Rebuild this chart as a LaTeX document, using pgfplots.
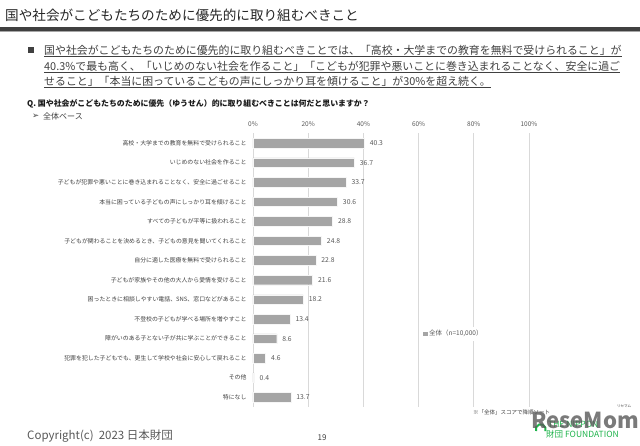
\documentclass[border=0pt]{standalone}
\usepackage{pgfplots}
\pgfplotsset{compat=1.18}
\usepackage{fontspec}
\setmainfont{Noto Sans CJK JP}
\newfontfamily\dejavu{DejaVu Sans}
\definecolor{barcol}{HTML}{A5A5A5}
\definecolor{gridcol}{HTML}{D9D9D9}
\definecolor{txt}{HTML}{404040}
\definecolor{lbl}{HTML}{595959}
\definecolor{nfgreen}{HTML}{1DB34A}
\begin{document}
\begin{tikzpicture}
\useasboundingbox (0pt,0pt) rectangle (640pt,445pt);
\begin{scope}[x=1pt,y=1pt]
\fill[white] (0,0) rectangle (640,445);
% title
\node[anchor=west,inner sep=0,text=black!85,font=\fontsize{13.6}{15}\selectfont] at (5,430) {国や社会がこどもたちのために優先的に取り組むべきこと};
\fill[txt] (0,414) rectangle (640,417.5);
\fill[black!35] (0,412.5) rectangle (640,414);
% bullet
\fill[txt] (27.5,392) rectangle (33.5,398);
\begin{scope}[every node/.style={anchor=west,inner sep=0,text=txt,font=\fontsize{10.9}{12}\selectfont}]
\node (l1) at (44,395) {国や社会がこどもたちのために優先的に取り組むべきことでは、「高校・大学までの教育を無料で受けられること」が};
\node (l2) at (44,379) {40.3\%で最も高く、「いじめのない社会を作ること」「こどもが犯罪や悪いことに巻き込まれることなく、安全に過ご};
\node (l3) at (44,364) {せること」「本当に困っているこどもの声にしっかり耳を傾けること」が30\%を超え続く。};
\end{scope}
\foreach \n in {l1,l2,l3}{\draw[txt,line width=0.7pt] ([yshift=-0.8pt]\n.south west) -- ([yshift=-0.8pt]\n.south east);}
% question
\node[anchor=west,inner sep=0,font=\fontsize{7.9}{9}\selectfont\bfseries,text=black!90] at (27,341) {Q. 国や社会がこどもたちのために優先（ゆうせん）的に取り組むべきことは何だと思いますか？};
\node[anchor=west,inner sep=0,font=\fontsize{8.5}{9}\selectfont\dejavu,text=txt] at (32,329) {➢};
\node[anchor=west,inner sep=0,font=\fontsize{8}{9}\selectfont,text=txt] at (43,329) {全体ベース};
% footnote
\node[anchor=west,inner sep=0,font=\fontsize{5.5}{6}\selectfont,text=txt] at (473,33) {※「全体」スコアで降順ソート};
% footer
\node[anchor=west,inner sep=0,font=\fontsize{11.5}{12}\selectfont,text=lbl] at (27,9) {Copyright(c)\ \ 2023 日本財団};
\node[anchor=center,inner sep=0,font=\fontsize{8}{9}\selectfont,text=txt] at (322,7) {19};
% logo
\draw[nfgreen,line width=2pt] (536,14) arc[start angle=200,end angle=-20,radius=5];
\node[anchor=west,inner sep=0,font=\fontsize{8.5}{9}\selectfont,text=nfgreen] at (548,21) {THE NIPPON};
\node[anchor=west,inner sep=0,font=\fontsize{8.5}{9}\selectfont,text=nfgreen] at (546,11) {財団 FOUNDATION};
\node[anchor=west,inner sep=0,font=\fontsize{22}{22}\selectfont\bfseries,text=black!65,opacity=0.8] at (531,25) {ReseMom};
\node[anchor=west,inner sep=0,font=\fontsize{3.5}{4}\selectfont,text=txt] at (617,39) {リセマム};
\end{scope}
% chart
\begin{axis}[
  at={(253pt,38pt)}, anchor=south west,
  scale only axis, width=276pt, height=273.6pt,
  xbar, bar width=9.5pt,
  xmin=0, xmax=100,
  ymin=-0.5, ymax=13.5, y dir=reverse,
  xtick={0,20,40,60,80,100},
  xticklabel={\pgfmathprintnumber{\tick}\%},
  xticklabel pos=upper,
  xticklabel style={font=\fontsize{6.5}{7}\selectfont, text=lbl, yshift=3pt},
  ytick={0,...,13},
  yticklabels={
    {高校・大学までの教育を無料で受けられること},
    {いじめのない社会を作ること},
    {子どもが犯罪や悪いことに巻き込まれることなく、安全に過ごせること},
    {本当に困っている子どもの声にしっかり耳を傾けること},
    {すべての子どもが平等に扱われること},
    {子どもが関わることを決めるとき、子どもの意見を聞いてくれること},
    {自分に適した医療を無料で受けられること},
    {子どもが家族やその他の大人から愛情を受けること},
    {困ったときに相談しやすい電話、SNS、窓口などがあること},
    {不登校の子どもが学べる場所を増やすこと},
    {障がいのある子とない子が共に学ぶことができること},
    {犯罪を犯した子どもでも、更生して学校や社会に安心して戻れること},
    {その他},
    {特になし}},
  yticklabel style={font=\fontsize{5.9}{6}\selectfont, text=txt, xshift=-3pt},
  major tick length=0pt,
  axis line style={draw=none},
  xmajorgrids, grid style={gridcol, line width=0.8pt},
  /pgf/number format/assume math mode=true,
  nodes near coords={\pgfmathprintnumber[fixed,fixed zerofill,precision=1]{\pgfplotspointmeta}},
  nodes near coords style={font=\fontsize{6.8}{7}\selectfont, text=lbl, anchor=west, xshift=2pt},
  legend style={at={(0.728,0.267)}, anchor=center, draw=none, fill=white, font=\fontsize{6.5}{7}\selectfont, text=lbl, inner sep=1.5pt},
  legend image code/.code={\fill[barcol] (0pt,-1.7pt) rectangle (3.4pt,1.7pt);},
  clip=false,
]
\addplot[fill=barcol, draw=white!90!barcol, line width=0.4pt] coordinates {
(40.3,0) (36.7,1) (33.7,2) (30.6,3) (28.8,4) (24.8,5) (22.8,6)
(21.6,7) (18.2,8) (13.4,9) (8.6,10) (4.6,11) (0.4,12) (13.7,13)};
\addlegendentry{全体（n=10,000）}
\end{axis}
\end{tikzpicture}
\end{document}
